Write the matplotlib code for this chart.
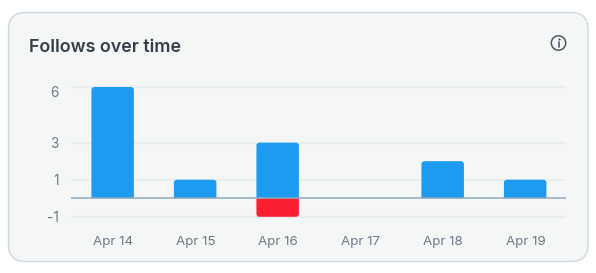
from matplotlib import pyplot as plt
from matplotlib.patches import Circle, FancyBboxPatch, PathPatch
from matplotlib.path import Path
from matplotlib.transforms import ScaledTranslation

# data
days = ["Apr 14", "Apr 15", "Apr 16", "Apr 17", "Apr 18", "Apr 19"]
follows = [6, 1, 3, 0, 2, 1]
unfollows = [0, 0, -1, 0, 0, 0]
yticks = [-1, 1, 3, 6]

W, H = 596, 273
BLUE = "#1d9bf0"
RED = "#f91f30"
TICK = "#6b7886"
DARK = "#343f4a"
ICON = "#4a5866"

plt.rcParams["font.family"] = ["Inter", "DejaVu Sans"]


def rounded_bar(ax, x, height, width, color, rx, ry):
    # flat at the baseline, rounded at the far end
    left, right = x - width / 2, x + width / 2
    ry = ry if height > 0 else -ry
    verts = [
        (left, 0),
        (left, height - ry),
        (left, height),
        (left + rx, height),
        (right - rx, height),
        (right, height),
        (right, height - ry),
        (right, 0),
        (left, 0),
    ]
    codes = [
        Path.MOVETO,
        Path.LINETO,
        Path.CURVE3,
        Path.CURVE3,
        Path.LINETO,
        Path.CURVE3,
        Path.CURVE3,
        Path.LINETO,
        Path.CLOSEPOLY,
    ]
    ax.add_patch(PathPatch(Path(verts, codes), fc=color, ec="none", zorder=3))


fig = plt.figure(figsize=(W / 100, H / 100), dpi=100, facecolor="white")

# card background, in pixels
bg = fig.add_axes([0, 0, 1, 1])
bg.set_xlim(0, W)
bg.set_ylim(H, 0)
bg.axis("off")
bg.add_patch(
    FancyBboxPatch(
        (8.5, 12.5),
        579.5,
        249,
        boxstyle="round,pad=0,rounding_size=17",
        fc="#f5f7f7",
        ec="#cbd8e0",
        lw=1,
    )
)
bg.text(29, 48, "Follows over time", fontsize=12.9, fontweight="semibold", color=DARK,
        va="center", ha="left")

# info icon
bg.add_patch(Circle((558.5, 43), 7.2, fc="none", ec=ICON, lw=1.1))
bg.plot([558.5, 558.5], [42.2, 47], color=ICON, lw=1.2, solid_capstyle="round")
bg.plot([558.5], [39], marker="o", ms=1.6, color=ICON, mew=0)

# chart
ax = fig.add_axes([71 / W, 1 - 216.8 / H, 495 / W, (216.8 - 87) / H])
ax.patch.set_alpha(0)
ax.set_xlim(-0.5, 5.5)
ax.set_ylim(-1, 6)
for s in ax.spines.values():
    s.set_visible(False)

rx, ry = 3 / 82.5, 3 / 18.5
for i, (up, down) in enumerate(zip(follows, unfollows)):
    if up:
        rounded_bar(ax, i + 0.005, up, 0.515, BLUE, rx, ry)
    if down:
        rounded_bar(ax, i + 0.005, down, 0.515, RED, rx, ry)

for y in yticks:
    ax.axhline(y, color="#e9edf0", lw=1.5, zorder=1, clip_on=False, solid_capstyle="butt")
ax.axhline(0, color="#8fa9c0", lw=1.1, zorder=4, solid_capstyle="butt")

ax.set_xticks(range(len(days)), days)
ax.set_yticks(yticks, [str(t) for t in yticks])
ax.tick_params(axis="x", length=0, pad=13.5, labelsize=9.6, labelcolor=TICK)
ax.tick_params(axis="y", length=0, pad=9, labelsize=9.8, labelcolor=TICK)

# x labels sit a pixel to the right of the bar centres
for lab in ax.get_xticklabels():
    lab.set_transform(lab.get_transform() + ScaledTranslation(0.8 / 100, 0, fig.dpi_scale_trans))

# top label sits lower than its gridline
top = ax.get_yticklabels()[-1]
top.set_transform(top.get_transform() + ScaledTranslation(0, -4.5 / 100, fig.dpi_scale_trans))

fig.savefig("out.png", dpi=100)
